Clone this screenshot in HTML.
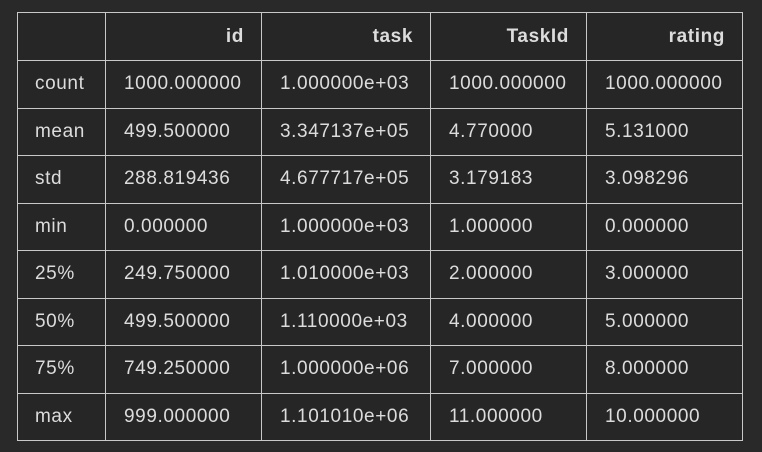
<!DOCTYPE html>
<html><head><meta charset="utf-8"><style>
html,body{margin:0;padding:0;background:#292929;width:762px;height:452px;overflow:hidden}
table{position:absolute;left:17px;top:12px;border-collapse:collapse;table-layout:fixed;
font-family:"Liberation Sans",sans-serif;font-size:19px;letter-spacing:0.6px;color:#dcdcdc;background:#262626}
td,th{border:1.5px solid #c8c8c8;padding:0;white-space:nowrap;overflow:hidden}
th{text-align:right;padding-right:17px;font-weight:bold;height:47px}
td{text-align:left;padding-left:18px;height:46.5px}
td.i{padding-left:17px}
</style></head><body>
<table>
<colgroup><col style="width:88px"><col style="width:156px"><col style="width:169px"><col style="width:156px"><col style="width:156px"></colgroup>
<tr><th></th><th>id</th><th>task</th><th>TaskId</th><th>rating</th></tr>
<tr><td class="i">count</td><td>1000.000000</td><td>1.000000e+03</td><td>1000.000000</td><td>1000.000000</td></tr>
<tr><td class="i">mean</td><td>499.500000</td><td>3.347137e+05</td><td>4.770000</td><td>5.131000</td></tr>
<tr><td class="i">std</td><td>288.819436</td><td>4.677717e+05</td><td>3.179183</td><td>3.098296</td></tr>
<tr><td class="i">min</td><td>0.000000</td><td>1.000000e+03</td><td>1.000000</td><td>0.000000</td></tr>
<tr><td class="i">25%</td><td>249.750000</td><td>1.010000e+03</td><td>2.000000</td><td>3.000000</td></tr>
<tr><td class="i">50%</td><td>499.500000</td><td>1.110000e+03</td><td>4.000000</td><td>5.000000</td></tr>
<tr><td class="i">75%</td><td>749.250000</td><td>1.000000e+06</td><td>7.000000</td><td>8.000000</td></tr>
<tr><td class="i">max</td><td>999.000000</td><td>1.101010e+06</td><td>11.000000</td><td>10.000000</td></tr>
</table>
</body></html>
